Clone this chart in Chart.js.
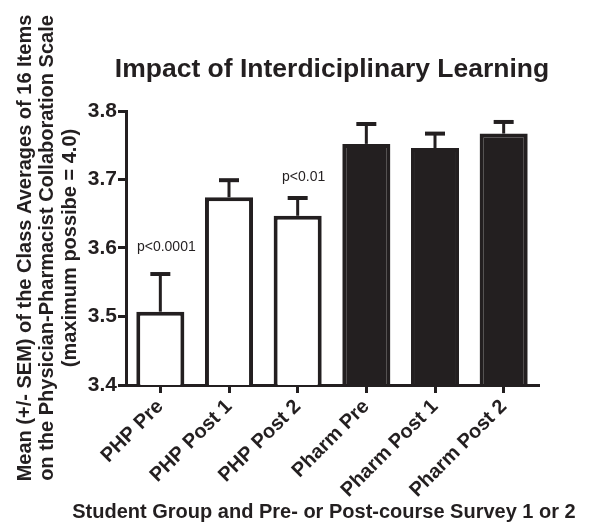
<!DOCTYPE html>
<html>
<head>
<meta charset="utf-8">
<script src="https://cdn.jsdelivr.net/npm/chart.js@4/dist/chart.umd.min.js"></script>
<style>
  html, body { margin: 0; padding: 0; background: #fff; }
  #wrap { width: 592px; height: 522px; }
</style>
</head>
<body>
<div id="wrap"><canvas id="impactChart" width="592" height="522"></canvas></div>
<script>
// data
var groups = ['PHP Pre', 'PHP Post 1', 'PHP Post 2', 'Pharm Pre', 'Pharm Post 1', 'Pharm Post 2'];
var means = [3.507, 3.674, 3.647, 3.752, 3.746, 3.767];
var semTop = [3.562, 3.699, 3.673, 3.781, 3.767, 3.784];
var yTicks = [3.4, 3.5, 3.6, 3.7, 3.8];
var pNotes = [
    { bar: 0, text: 'p<0.0001', at: 3.601 },
    { bar: 2, text: 'p<0.01', at: 3.704 }
];
var chartTitle = 'Impact of Interdiciplinary Learning';
var xTitle = 'Student Group and Pre- or Post-course Survey 1 or 2';

var ink = '#231f20';
var face = '"Liberation Sans", Arial, sans-serif';
var fills = groups.map(function(g) { return g.indexOf('Pharm') === 0 ? ink : '#ffffff'; });

// upward error bars, p value notes, and the two titles
// (Chart.js squeezes titles to the axis width, so they are drawn here)
var errorBars = {
    id: 'errorBars',
    afterDatasetsDraw: function(chart) {
        var ctx = chart.ctx;
        var meta = chart.getDatasetMeta(0);
        var y = chart.scales.y;
        ctx.save();
        ctx.strokeStyle = ink;
        meta.data.forEach(function(bar, i) {
            var top = y.getPixelForValue(semTop[i]);
            var base = y.getPixelForValue(means[i]);
            ctx.lineWidth = 3;
            ctx.beginPath();
            ctx.moveTo(bar.x, base);
            ctx.lineTo(bar.x, top);
            ctx.stroke();
            ctx.lineWidth = 4;
            ctx.beginPath();
            ctx.moveTo(bar.x - 10, top);
            ctx.lineTo(bar.x + 10, top);
            ctx.stroke();
        });
        ctx.fillStyle = ink;
        ctx.font = '14px ' + face;
        ctx.textAlign = 'center';
        ctx.textBaseline = 'middle';
        pNotes.forEach(function(n) {
            ctx.fillText(n.text, meta.data[n.bar].x + 6, y.getPixelForValue(n.at));
        });

        var area = chart.chartArea;
        var mid = (area.left + area.right) / 2;
        ctx.textBaseline = 'alphabetic';
        ctx.font = 'bold 26.5px ' + face;
        ctx.fillText(chartTitle, mid, area.top - 34);
        ctx.font = 'bold 20px ' + face;
        ctx.fillText(xTitle, mid - 8, chart.height - 4);
        ctx.restore();
    }
};

var ctx = document.getElementById('impactChart').getContext('2d');
var impactChart = new Chart(ctx, {
    type: 'bar',
    data: {
        labels: groups,
        datasets: [{
            data: means,
            backgroundColor: fills,
            borderColor: ink,
            borderWidth: 4,
            borderSkipped: false,
            barPercentage: 0.7,
            categoryPercentage: 1.0
        }]
    },
    options: {
        responsive: false,
        animation: false,
        layout: { padding: { left: 0, right: 54, top: 111, bottom: 0 } },
        plugins: {
            legend: { display: false },
            tooltip: { enabled: false },
            title: { display: false }
        },
        scales: {
            y: {
                min: 3.4,
                max: 3.8,
                afterBuildTicks: function(scale) {
                    scale.ticks = yTicks.map(function(v) { return { value: v }; });
                },
                afterFit: function(scale) { scale.width = 126; },
                border: { color: ink, width: 3 },
                grid: { drawOnChartArea: false, drawTicks: true, tickLength: 8, color: ink, lineWidth: 3 },
                ticks: {
                    color: ink,
                    padding: 1,
                    font: { family: face, size: 21, weight: 'bold' },
                    callback: function(v) { return v.toFixed(1); }
                },
                title: {
                    display: true,
                    text: ['Mean (+/- SEM) of the Class Averages of 16 Items',
                           'on the Physician-Pharmacist Collaboration Scale',
                           '(maximum possibe = 4.0)'],
                    color: ink,
                    font: { family: face, size: 20, weight: 'bold', lineHeight: 1.12 },
                    padding: { top: 14, bottom: 0 }
                }
            },
            x: {
                afterFit: function(scale) { scale.height = 137; },
                border: { color: ink, width: 3 },
                grid: { offset: false, drawOnChartArea: false, drawTicks: true, tickLength: 8, color: ink, lineWidth: 3 },
                ticks: {
                    color: ink,
                    minRotation: 45,
                    maxRotation: 45,
                    padding: 2,
                    font: { family: face, size: 20, weight: 'bold' }
                }
            }
        }
    },
    plugins: [errorBars]
});
</script>
</body>
</html>
